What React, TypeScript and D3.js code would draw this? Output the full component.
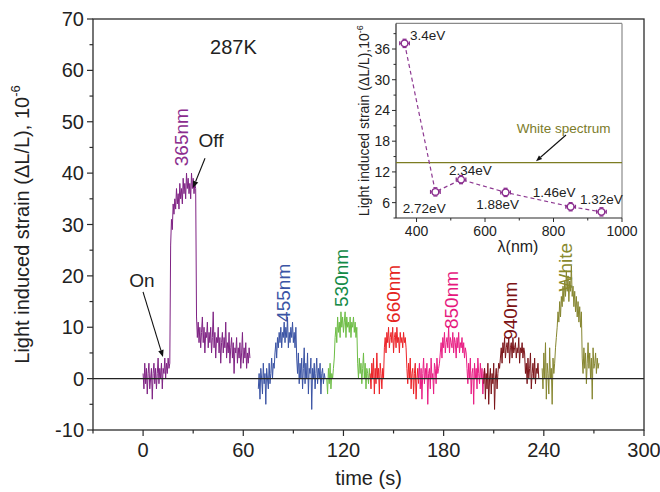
import React from "react";
import * as d3 from "d3";

// ---------- main chart data (time series, sampled every 0.5 s) ----------
const traceStep = 0.5;
const traceNames = ["365nm", "455nm", "530nm", "660nm", "850nm", "940nm", "White"];
const traceStart = [0, 69, 110, 136, 165, 204, 239];

const s365 = [
  1, -2, 3, -1, 2, -3, 1, 3, -2, 0, 2, -4, 1, 3, -1, 2, -2, 1, 4, -1, 2, 0, 3, -2, 2, 1, 4, 0, 3, 1, 4, 2, 3,
  26, 31, 29, 34, 32, 35, 33, 37, 34, 36, 33, 38, 35, 37, 34, 39, 36, 38, 35, 40, 37, 39, 36, 38, 35, 40, 37, 39, 36, 38, 37,
  12, 8, 11, 7, 10, 6, 9, 12, 7, 10, 5, 9, 8, 11, 6, 9, 7, 10, 5, 8, 13, 6, 9, 4, 8, 7, 10, 5, 8, 3, 7, 9, 5,
  8, 6, 11, 4, 7, 5, 9, 3, 6, 8, 4, 7, 1, 6, 5, 8, 3, 6, 4, 7, 2, 5, 9, 3, 6, 4, 7, 2, 5, 3, 6, 4,
];
const s455 = [
  -2, 1, -4, 2, 0, -3, 3, -1, 1, -5, 2, 0, -2, 3, -1, 1, 4, 0, 3, 2,
  5, 7, 4, 8, 6, 9, 7, 10, 6, 9, 8, 11, 7, 10, 8, 12, 6, 9, 7, 10, 8, 11, 7, 9, 6, 10,
  4, 1, 5, -1, 3, 0, 4, -2, 2, 6, -1, 3, 0, 5, -3, 2, 1, 4, -6, 2, 0, 3, -2, 1, 4, -1, 2, 0, 3, -3, 1, 2, -1, 1, 0,
];
const s530 = [
  0, -3, 2, -1, 3, -2, 1, 0, 2, 4,
  8, 10, 7, 12, 9, 11, 8, 13, 10, 12, 9, 11, 13, 8, 12, 10, 11, 9, 12, 8, 11, 10, 12, 9, 11, 8, 10,
  3, 0, 4, 1, 3, -1, 2, 5, 0, 3, -2, 2, 1, -1, 2, 0,
];
const s660 = [
  1, -2, 3, 0, 4, -3, 2, -1, 5, 0, 2, -3, 3, 1, -2, 2, 0,
  6, 8, 5, 9, 7, 10, 6, 8, 9, 7, 10, 5, 8, 9, 6, 10, 7, 8, 5, 9, 7, 8, 6, 9, 7, 8, 6,
  2, -1, 3, 0, 4, -2, 1, 2, -3, 1, 3, -4, 0, 2, -1,
];
const s850 = [
  0, 3, -2, 2, -4, 1, 4, -1, 2, 0, 3, -5, 1, 2, -2, 4, 0, 1, -3, 3, 2, -1, 4, 1, 2, 3,
  5, 7, 4, 8, 6, 9, 5, 7, 8, 6, 10, 5, 8, 7, 6, 9, 5, 8, 7, 4, 8, 6, 9, 5, 7, 6, 8, 5, 7, 4, 6, 5,
  2, -1, 3, 0, 4, -3, 1, 2, -5, 3, 0, 2, -2, 4, 1, -1, 3, 0, 2, -3, 1, 2, 0,
];
const s940 = [
  -1, 2, -4, 1, -2, 3, -5, 0, 2, -3, 1, -1, 3, -6, 0, 2, -2, 1, 3, 2,
  4, 6, 3, 7, 5, 8, 4, 6, 7, 5, 8, 3, 6, 7, 4, 8, 5, 6, 7, 4, 6, 5, 8, 3, 6, 5, 7, 4, 6, 5,
  1, 3, -1, 4, 0, 2, 5, -2, 1, 3, 0, 4, -1, 2, 1, 3, 0,
];
const sWhite = [
  2, -2, 5, 0, 7, -4, 3, 1, -3, 6, 0, 2, -5, 4, 1, 3, 6, 8,
  10, 13, 11, 15, 12, 16, 14, 18, 15, 19, 16, 21, 17, 20, 15, 19, 17, 22, 16, 18, 14, 17, 13, 16, 12, 15, 11, 14, 10, 13,
  4, 1, 6, 2, 5, -1, 3, 7, 2, 5, 0, 4, -4, 6, 2, 3, 5, 1, 4, 2, 3,
];
const traceValues = [s365, s455, s530, s660, s850, s940, sWhite];
const traceColors = ["#7f2384", "#3a53a4", "#6dbd45", "#ec2227", "#e91e84", "#7b1419", "#868630"];
const labelColors = ["#8b2c8e", "#3b55a5", "#138a47", "#e52421", "#e6197e", "#7d1315", "#8a8a2e"];
// label centers in data coordinates [t, value]
const labelT = [22.7, 83.8, 118.5, 149.7, 184.4, 219.7, 252.7];
const labelV = [47.0, 16.7, 19.6, 16.5, 15.3, 13.2, 21.7];

const yTicks = [-10, 0, 10, 20, 30, 40, 50, 60, 70];
const yMinor = [-5, 5, 15, 25, 35, 45, 55, 65];
const xTicks = [0, 60, 120, 180, 240, 300];
const xMinor = [-30, 30, 90, 150, 210, 270];

// ---------- inset data ----------
const wavelengths = [365, 455, 530, 660, 850, 940];
const insetStrain = [37.1, 8.1, 10.5, 8.0, 5.2, 4.2];
const insetErrX = [14, 14, 14, 14, 14, 14];
const insetErrY = [0.8, 0.8, 0.8, 0.8, 0.8, 0.8];
const eVLabels = ["3.4eV", "2.72eV", "2.34eV", "1.88eV", "1.46eV", "1.32eV"];
const eVLabelX = [381, 360, 495, 574, 739, 877];
const eVLabelY = [37.8, 4.0, 11.4, 4.8, 7.1, 5.7];
const whiteLevel = 13.8;
const insetXTicks = [400, 600, 800, 1000];
const insetXMinor = [500, 700, 900];
const insetYTicks = [6, 12, 18, 24, 30, 36];
const insetYMinor = [3, 9, 15, 21, 27, 33, 39];

const FONT = "Liberation Sans, Arial, Helvetica, sans-serif";

function Arrow({ x1, y1, x2, y2, size = 7 }: { x1: number; y1: number; x2: number; y2: number; size?: number }) {
  const ang = Math.atan2(y2 - y1, x2 - x1);
  const w = size * 0.4;
  const bx = x2 - size * Math.cos(ang);
  const by = y2 - size * Math.sin(ang);
  const p1 = [bx + w * Math.sin(ang), by - w * Math.cos(ang)];
  const p2 = [bx - w * Math.sin(ang), by + w * Math.cos(ang)];
  return (
    <g>
      <line x1={x1} y1={y1} x2={bx} y2={by} stroke="#111" strokeWidth={1.1} />
      <polygon points={`${x2},${y2} ${p1[0]},${p1[1]} ${p2[0]},${p2[1]}`} fill="#111" />
    </g>
  );
}

export default function App() {
  const W = 660;
  const H = 492;
  const x = d3.scaleLinear().domain([-30, 300]).range([93, 644]);
  const y = d3.scaleLinear().domain([-10, 70]).range([430, 19]);

  const series = traceValues.map((vals, i) => ({
    name: traceNames[i],
    color: traceColors[i],
    pts: vals.map((v, j) => [traceStart[i] + j * traceStep, v] as [number, number]),
  }));
  const line = d3
    .line<[number, number]>()
    .x((d) => x(d[0]))
    .y((d) => y(d[1]));

  // inset scales
  const ix = d3.scaleLinear().domain([340, 1000]).range([396, 622]);
  const iy = d3.scaleLinear().domain([3, 41]).range([218, 23.4]);
  const insetPts = wavelengths.map((w, i) => [w, insetStrain[i]] as [number, number]);
  const iline = d3
    .line<[number, number]>()
    .x((d) => ix(d[0]))
    .y((d) => iy(d[1]));

  const axisColor = "#2b2b2b";
  const [x0, x1] = x.range();
  const [yb, yt] = y.range();
  const [ix0, ix1] = ix.range();
  const [iyb, iyt] = iy.range();

  return (
    <svg width={W} height={H} style={{ position: "absolute", left: 0, top: 0, background: "#fff" }} fontFamily={FONT}>
      <rect x={0} y={0} width={W} height={H} fill="#fff" />

      {/* traces */}
      {series.map((s) => (
        <path key={s.name} d={line(s.pts) || ""} fill="none" stroke={s.color} strokeWidth={1} strokeLinejoin="round" />
      ))}

      {/* zero line */}
      <line x1={x0} x2={x1} y1={y(0)} y2={y(0)} stroke="#222" strokeWidth={1.3} />

      {/* frame */}
      <rect x={x0} y={yt} width={x1 - x0} height={yb - yt} fill="none" stroke={axisColor} strokeWidth={1.3} />

      {/* y ticks */}
      {yTicks.map((t) => (
        <g key={"yt" + t}>
          <line x1={x0 - 6} x2={x0} y1={y(t)} y2={y(t)} stroke={axisColor} strokeWidth={1.2} />
          <text x={x0 - 9} y={y(t)} dy="0.35em" textAnchor="end" fontSize={20} fill="#222">
            {t}
          </text>
        </g>
      ))}
      {yMinor.map((t) => (
        <line key={"ym" + t} x1={x0 - 3.5} x2={x0} y1={y(t)} y2={y(t)} stroke={axisColor} strokeWidth={1.2} />
      ))}
      {/* x ticks */}
      {xTicks.map((t) => (
        <g key={"xt" + t}>
          <line x1={x(t)} x2={x(t)} y1={yb} y2={yb + 6} stroke={axisColor} strokeWidth={1.2} />
          <text x={x(t)} y={yb + 27} textAnchor="middle" fontSize={20} fill="#222">
            {t}
          </text>
        </g>
      ))}
      {xMinor.map((t) => (
        <line key={"xm" + t} x1={x(t)} x2={x(t)} y1={yb} y2={yb + 3.5} stroke={axisColor} strokeWidth={1.2} />
      ))}

      {/* axis titles */}
      <text x={(x0 + x1) / 2} y={485} textAnchor="middle" fontSize={20} fill="#222">
        time (s)
      </text>
      <text transform={`translate(29, ${(yb + yt) / 2}) rotate(-90)`} textAnchor="middle" fontSize={20} fill="#222">
        Light induced strain (ΔL/L), 10<tspan dy="-9" fontSize={13}>-6</tspan>
      </text>

      {/* annotations */}
      <text x={x(40.1)} y={y(63.2)} fontSize={20} fill="#222">
        287K
      </text>
      <text x={x(-0.65)} y={y(17.8)} textAnchor="middle" fontSize={19} fill="#222">
        On
      </text>
      <Arrow x1={x(-0.05)} y1={y(16.9)} x2={x(11.9)} y2={y(4.2)} />
      <text x={x(40.7)} y={y(45.1)} textAnchor="middle" fontSize={19} fill="#222">
        Off
      </text>
      <Arrow x1={x(37.1)} y1={y(42.9)} x2={x(29.9)} y2={y(37.1)} />
      {traceNames.map((n, i) => (
        <text
          key={"lab" + n}
          transform={`translate(${x(labelT[i])}, ${y(labelV[i])}) rotate(-90)`}
          textAnchor="middle"
          dy="0.35em"
          fontSize={19}
          fill={labelColors[i]}
        >
          {n}
        </text>
      ))}

      {/* ---------- inset ---------- */}
      <g>
        <line x1={ix0} x2={ix1} y1={iyt} y2={iyt} stroke="#8a8a8a" strokeWidth={1.2} />
        <line x1={ix1} x2={ix1} y1={iyt} y2={iyb} stroke="#8a8a8a" strokeWidth={1.2} />
        <line x1={ix0} x2={ix0} y1={iyt} y2={iyb} stroke={axisColor} strokeWidth={1.2} />
        <line x1={ix0} x2={ix1} y1={iyb} y2={iyb} stroke={axisColor} strokeWidth={1.2} />
        {insetYTicks.map((t) => (
          <g key={"iyt" + t}>
            <line x1={ix0 - 4} x2={ix0} y1={iy(t)} y2={iy(t)} stroke={axisColor} strokeWidth={1} />
            <text x={ix0 - 6} y={iy(t)} dy="0.35em" textAnchor="end" fontSize={14} fill="#222">
              {t}
            </text>
          </g>
        ))}
        {insetYMinor.map((t) => (
          <line key={"iym" + t} x1={ix0 - 2.5} x2={ix0} y1={iy(t)} y2={iy(t)} stroke={axisColor} strokeWidth={1} />
        ))}
        {insetXTicks.map((t) => (
          <g key={"ixt" + t}>
            <line x1={ix(t)} x2={ix(t)} y1={iyb} y2={iyb + 4} stroke={axisColor} strokeWidth={1} />
            <text x={ix(t)} y={iyb + 18} textAnchor="middle" fontSize={14} fill="#222">
              {t}
            </text>
          </g>
        ))}
        {insetXMinor.map((t) => (
          <line key={"ixm" + t} x1={ix(t)} x2={ix(t)} y1={iyb} y2={iyb + 2.5} stroke={axisColor} strokeWidth={1} />
        ))}
        <text x={518} y={252} textAnchor="middle" fontSize={16} fill="#222">
          λ(nm)
        </text>
        <text transform={`translate(369, ${(iyb + iyt) / 2}) rotate(-90)`} textAnchor="middle" fontSize={14} fill="#222">
          Light induced strain (ΔL/L),10<tspan dy="-6" fontSize={9}>-6</tspan>
        </text>

        {/* white spectrum */}
        <line x1={ix0} x2={ix1} y1={iy(whiteLevel)} y2={iy(whiteLevel)} stroke="#7c7c22" strokeWidth={1.3} />
        <text x={ix(692.5)} y={iy(19.6)} fontSize={13.5} fill="#7c7c2a">
          White spectrum
        </text>
        <Arrow x1={ix(836.5)} y1={iy(19.2)} x2={ix(748.9)} y2={iy(14.1)} size={6} />

        {/* dashed connection + markers */}
        <path d={iline(insetPts) || ""} fill="none" stroke="#8e3a92" strokeWidth={1.2} strokeDasharray="4,3" />
        {insetPts.map(([w, v], i) => (
          <g key={"ip" + w} stroke="#8b2f8f" strokeWidth={1.3} fill="none">
            <line x1={ix(w - insetErrX[i])} x2={ix(w + insetErrX[i])} y1={iy(v)} y2={iy(v)} />
            <line x1={ix(w - insetErrX[i])} x2={ix(w - insetErrX[i])} y1={iy(v) - 2} y2={iy(v) + 2} />
            <line x1={ix(w + insetErrX[i])} x2={ix(w + insetErrX[i])} y1={iy(v) - 2} y2={iy(v) + 2} />
            <line x1={ix(w)} x2={ix(w)} y1={iy(v - insetErrY[i])} y2={iy(v + insetErrY[i])} />
            <line x1={ix(w) - 2} x2={ix(w) + 2} y1={iy(v - insetErrY[i])} y2={iy(v - insetErrY[i])} />
            <line x1={ix(w) - 2} x2={ix(w) + 2} y1={iy(v + insetErrY[i])} y2={iy(v + insetErrY[i])} />
            <circle cx={ix(w)} cy={iy(v)} r={3.3} fill="#fff" />
          </g>
        ))}
        {eVLabels.map((l, i) => (
          <text key={l} x={ix(eVLabelX[i])} y={iy(eVLabelY[i])} fontSize={13.5} fill="#222">
            {l}
          </text>
        ))}
      </g>
    </svg>
  );
}
